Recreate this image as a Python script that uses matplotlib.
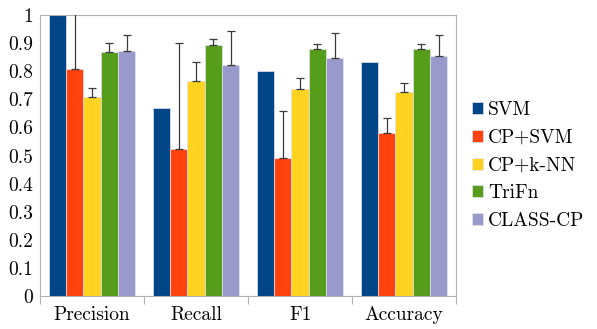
import numpy as np
import matplotlib
matplotlib.use('Agg')
import matplotlib.pyplot as plt

plt.rcParams['font.family'] = ['cmr10', 'DejaVu Serif']
plt.rcParams['axes.formatter.use_mathtext'] = True

categories = ['Precision', 'Recall', 'F1', 'Accuracy']
methods = ['SVM', 'CP+SVM', 'CP+k-NN', 'TriFn', 'CLASS-CP']
colors = ['#004586', '#ff420e', '#ffd320', '#579d1c', '#9999cc']

svm = [1.0, 0.671, 0.800, 0.834]
cp_svm = [0.807, 0.523, 0.491, 0.579]
cp_knn = [0.709, 0.767, 0.737, 0.727]
trifn = [0.868, 0.895, 0.881, 0.880]
class_cp = [0.873, 0.823, 0.846, 0.854]

# upper ends of the error bars (None = no bar)
svm_top = [None, None, None, None]
cp_svm_top = [1.10, 0.900, 0.659, 0.633]
cp_knn_top = [0.740, 0.834, 0.777, 0.759]
trifn_top = [0.900, 0.915, 0.897, 0.897]
class_cp_top = [0.930, 0.944, 0.935, 0.930]

values = [svm, cp_svm, cp_knn, trifn, class_cp]
tops = [svm_top, cp_svm_top, cp_knn_top, trifn_top, class_cp_top]

fs = 14

fig = plt.figure(figsize=(5.97, 3.29), dpi=100)
ax = fig.add_axes([0.067, 0.1003, 0.697, 0.8537])

x = np.arange(len(categories))
width = 1 / 6
for i, (vals, top, name, col) in enumerate(zip(values, tops, methods, colors)):
    pos = x - 2 * width + i * width
    ax.bar(pos, vals, width, color=col, edgecolor='#e4e4f0', linewidth=0.5,
           label=name, zorder=2)
    sel = [j for j, t in enumerate(top) if t is not None]
    if sel:
        up = np.array([top[j] - vals[j] for j in sel])
        ax.errorbar(pos[sel], np.array(vals)[sel],
                    yerr=[np.zeros(len(sel)), up],
                    fmt='none', ecolor='#3a3a3a', elinewidth=0.9,
                    capsize=2.6, capthick=0.9, zorder=3)

ax.set_xlim(-0.5, len(categories) - 0.5)
ax.set_ylim(0, 1)
ax.set_yticks(np.arange(0, 1.01, 0.1))
ax.set_yticklabels(['0'] + ['%.1f' % v for v in np.arange(0.1, 0.95, 0.1)] + ['1'],
                   fontsize=fs)
ax.set_xticks(x)
ax.set_xticklabels(categories, fontsize=fs)
ax.set_xticks(np.arange(-0.5, len(categories), 1), minor=True)
ax.tick_params(axis='x', which='major', length=0, pad=7)
ax.tick_params(axis='x', which='minor', length=6, color='#b3b3b3', width=0.8)
ax.tick_params(axis='y', length=0, pad=5)
for s in ax.spines.values():
    s.set_color('#b3b3b3')
    s.set_linewidth(0.8)

ax.legend(loc='center left', bbox_to_anchor=(0.790, 0.497),
          bbox_transform=fig.transFigure, frameon=False, fontsize=fs,
          handlelength=0.57, handleheight=0.57, handletextpad=0.28,
          labelspacing=0.5, borderpad=0, borderaxespad=0)

fig.savefig('out.png', dpi=100, facecolor='white')
